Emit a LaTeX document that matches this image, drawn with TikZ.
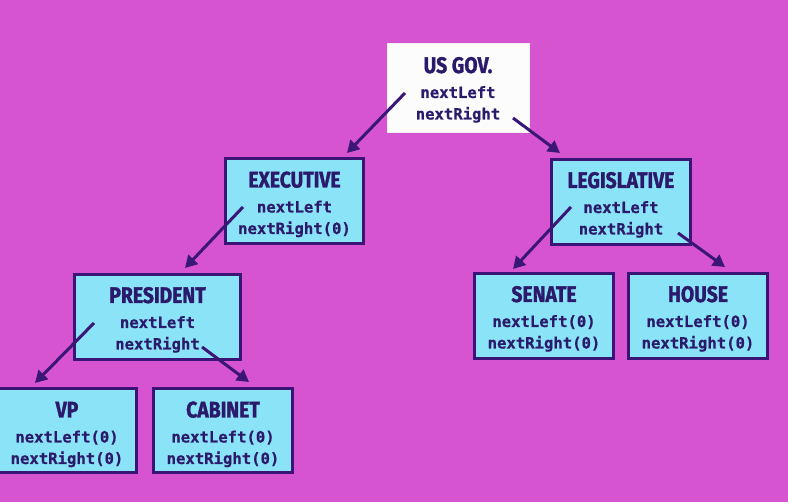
\documentclass[tikz,border=0pt]{standalone}
\usepackage{fontspec}
\usepackage{graphicx}
\usetikzlibrary{arrows.meta,calc}
\setmainfont{Fira Sans}[BoldFeatures={FakeBold=1.6}]
\newfontfamily\monof{DejaVu Sans Mono}[BoldFeatures={FakeBold=0.6}]
\definecolor{bgc}{HTML}{D654D0}
\definecolor{boxfill}{HTML}{8BE3F7}
\definecolor{boxline}{HTML}{3A1476}
\definecolor{txt}{HTML}{2B1A6C}
\definecolor{arrc}{HTML}{3A1677}
\newcommand\tscale[1]{\scalebox{0.86}[1]{#1}}
\tikzset{
  cbox/.style={draw=boxline, line width=3pt, fill=boxfill, inner sep=0pt},
  wbox/.style={draw=white!88!gray, line width=1pt, fill=white!98!gray, inner sep=0pt},
  ttl/.style={anchor=base, inner sep=0pt, text=txt, font=\bfseries\fontsize{22.5}{22}\selectfont},
  mono/.style={anchor=base, inner sep=0pt, text=txt, font=\monof\bfseries\fontsize{15.6}{16}\selectfont},
  arr/.style={draw=arrc, line width=3pt, -{Triangle[length=12pt,width=13pt]}}
}
\newcommand\govbox[8][cbox]{%
  \node[#1, minimum width=#4pt-3pt, minimum height=#5pt-3pt] (#2) at (#3) {};
  \node[ttl] (#2-t) at ($(#2.north)+(0,30)$) {\tscale{#6}};
  \node[mono] (#2-l) at ($(#2.north)+(0,55)$) {#7};
  \node[mono] (#2-r) at ($(#2.north)+(0,76.5)$) {#8};
}
\begin{document}
\begin{tikzpicture}[x=1pt,y=-1pt]
\fill[bgc] (0,0) rectangle (788,502);
\useasboundingbox (0,0) rectangle (788,502);
\govbox[wbox]{usgov}{458,88}{145}{92}{US GOV.}{nextLeft}{nextRight}
\govbox{exec}{294.5,201.5}{141}{88}{EXECUTIVE}{nextLeft}{nextRight(0)}
\govbox{legis}{621,202}{142}{88}{LEGISLATIVE}{nextLeft}{nextRight}
\govbox{pres}{157.5,317}{169}{88}{PRESIDENT}{nextLeft}{nextRight}
\govbox{senate}{544,316}{142}{88}{SENATE}{nextLeft(0)}{nextRight(0)}
\govbox{house}{698,316}{142}{88}{HOUSE}{nextLeft(0)}{nextRight(0)}
\govbox{vp}{67,431}{142}{87}{VP}{nextLeft(0)}{nextRight(0)}
\govbox{cabinet}{223,431}{142}{87}{CABINET}{nextLeft(0)}{nextRight(0)}
\coordinate (usgov-ls) at (405,93);
\coordinate (usgov-rs) at (513,118);
\coordinate (exec-in) at (347,153);
\coordinate (legis-in) at (560,153);
\coordinate (exec-ls) at (243,207);
\coordinate (pres-in) at (185,268);
\coordinate (legis-ls) at (571,207);
\coordinate (senate-in) at (513,269);
\coordinate (legis-rs) at (678,233);
\coordinate (house-in) at (725,267);
\coordinate (pres-ls) at (94,323);
\coordinate (vp-in) at (35,383);
\coordinate (pres-rs) at (202,347);
\coordinate (cabinet-in) at (249,382);
\draw[arr] (usgov-ls) -- (exec-in);
\draw[arr] (usgov-rs) -- (legis-in);
\draw[arr] (exec-ls) -- (pres-in);
\draw[arr] (legis-ls) -- (senate-in);
\draw[arr] (legis-rs) -- (house-in);
\draw[arr] (pres-ls) -- (vp-in);
\draw[arr] (pres-rs) -- (cabinet-in);
\end{tikzpicture}
\end{document}
